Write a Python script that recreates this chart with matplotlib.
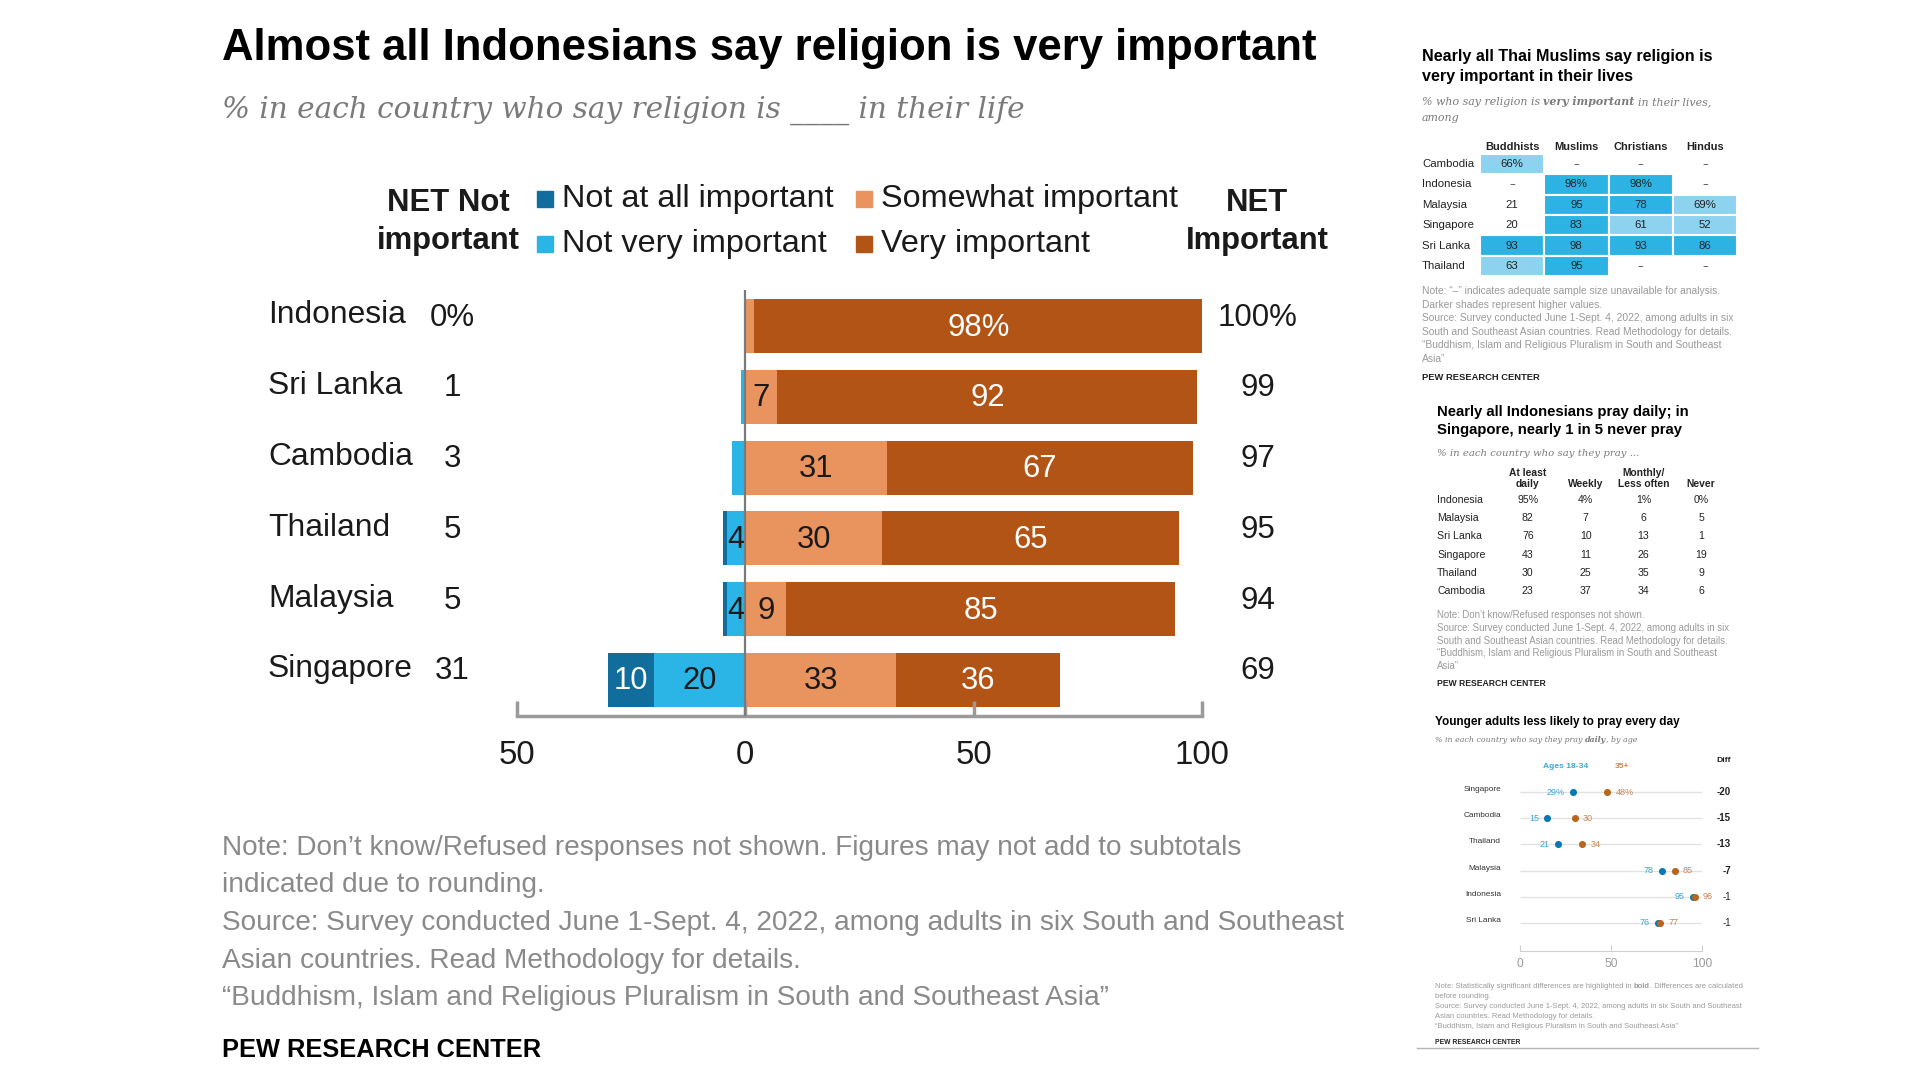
import matplotlib
matplotlib.use("Agg")
import matplotlib.pyplot as plt
import matplotlib.transforms as mtransforms
from matplotlib import font_manager
from matplotlib.patches import Rectangle

# ── Data ──────────────────────────────────────────────────────────────────────

COUNTRIES = ["Indonesia", "Sri Lanka", "Cambodia", "Thailand", "Malaysia", "Singapore"]
NOT_AT_ALL = [0, 0, 0, 1, 1, 10]
NOT_VERY = [0, 1, 3, 4, 4, 20]
SOMEWHAT = [2, 7, 31, 30, 9, 33]
VERY = [98, 92, 67, 65, 85, 36]
NET_NOT = [0, 1, 3, 5, 5, 31]
NET_IMP = [100, 99, 97, 95, 94, 69]

GROUPS = ["Buddhists", "Muslims", "Christians", "Hindus"]
TABLE_COUNTRIES = ["Cambodia", "Indonesia", "Malaysia", "Singapore", "Sri Lanka", "Thailand"]
BUDDHISTS = [66, None, 21, 20, 93, 63]
MUSLIMS = [None, 98, 95, 83, 98, 95]
CHRISTIANS = [None, 98, 78, 61, 93, None]
HINDUS = [None, None, 69, 52, 86, None]

PRAY_COUNTRIES = ["Indonesia", "Malaysia", "Sri Lanka", "Singapore", "Thailand", "Cambodia"]
PRAY_DAILY = [95, 82, 76, 43, 30, 23]
PRAY_WEEKLY = [4, 7, 10, 11, 25, 37]
PRAY_MONTHLY = [1, 6, 13, 26, 35, 34]
PRAY_NEVER = [0, 5, 1, 19, 9, 6]

AGE_COUNTRIES = ["Singapore", "Cambodia", "Thailand", "Malaysia", "Indonesia", "Sri Lanka"]
YOUNG = [29, 15, 21, 78, 95, 76]
OLDER = [48, 30, 34, 85, 96, 77]
DIFF = [-20, -15, -13, -7, -1, -1]
SIGNIF = [True, True, True, True, False, False]

# ── Style ─────────────────────────────────────────────────────────────────────

C_NOTALL = "#106d9c"
C_NOTVERY = "#2ab5e6"
C_SOME = "#e9935f"
C_VERY = "#b25415"
TEXT = "#1a1a1a"
GRAY = "#8a8a8a"
SUB = "#7a7a7a"
CELL_DARK = "#2cb3e4"
CELL_LIGHT = "#8dd3f0"
DOT_YOUNG = "#0b78b3"
DOT_OLD = "#b8661f"
LBL_YOUNG = "#3aa7d6"
LBL_OLD = "#c98451"

installed = {f.name for f in font_manager.fontManager.ttflist}
NARROW = "Liberation Sans Narrow" if "Liberation Sans Narrow" in installed else "Liberation Sans"
SANS = "Liberation Sans"
SERIF = "DejaVu Serif"

W, H = 1920, 1080
fig = plt.figure(figsize=(W / 100, H / 100), dpi=100, facecolor="white")
ov = fig.add_axes([0, 0, 1, 1])
ov.set_xlim(0, W)
ov.set_ylim(H, 0)
ov.axis("off")


def px_axes(left, top, right, bottom):
    a = fig.add_axes([left / W, 1 - bottom / H, (right - left) / W, (bottom - top) / H])
    a.patch.set_alpha(0)
    return a


def size_for(s, width, **kw):
    t = ov.text(0, 0, s, fontsize=10, **kw)
    w = t.get_window_extent(fig.canvas.get_renderer()).width
    t.remove()
    return 10 * width / w


def rich(x, y, parts, size, **kw):
    # parts: (text, weight, gap in em before it)
    t = ov.text(x, y, parts[0][0], fontsize=size, fontweight=parts[0][1], va="center", **kw)
    for s, wgt, gap in parts[1:]:
        t = ov.annotate(s, xy=(1, 0), xycoords=t, xytext=(gap * size, 0),
                        textcoords="offset points", va="bottom", ha="left",
                        fontsize=size, fontweight=wgt, **kw)


def lines(x, y0, dy, rows, size, **kw):
    for i, s in enumerate(rows):
        ov.text(x, y0 + i * dy, s, fontsize=size, va="center", **kw)


# ── Main chart ────────────────────────────────────────────────────────────────

title_fs = size_for("Almost all Indonesians say religion is very important", 1096, family=NARROW, fontweight="bold")
ov.text(222, 60, "Almost all Indonesians say religion is very important", fontsize=title_fs,
        family=NARROW, fontweight="bold", color="black", va="baseline")
sub_s = "% in each country who say religion is ____ in their life"
sub_fs = size_for(sub_s, 802, family=SERIF, style="italic")
ov.text(222, 118, sub_s, fontsize=sub_fs, family=SERIF, style="italic", color=SUB, va="baseline")

leg_fs = size_for("Not at all important", 273, family=NARROW)
net_fs = size_for("important", 143, family=NARROW, fontweight="bold")
ov.text(448, 203, "NET Not", fontsize=net_fs, family=NARROW, fontweight="bold", ha="center", va="center", color=TEXT)
ov.text(448, 241, "important", fontsize=net_fs, family=NARROW, fontweight="bold", ha="center", va="center", color=TEXT)
ov.text(1257, 203, "NET", fontsize=net_fs, family=NARROW, fontweight="bold", ha="center", va="center", color=TEXT)
ov.text(1257, 241, "Important", fontsize=net_fs, family=NARROW, fontweight="bold", ha="center", va="center", color=TEXT)
for (x, yc, col, lab) in [(537, 199, C_NOTALL, "Not at all important"),
                          (537, 244, C_NOTVERY, "Not very important"),
                          (856, 199, C_SOME, "Somewhat important"),
                          (856, 244, C_VERY, "Very important")]:
    ov.add_patch(Rectangle((x, yc - 8), 16, 16, color=col))
    ov.text(x + 25, yc, lab, fontsize=leg_fs, family=NARROW, va="center", color=TEXT)

ax = px_axes(517, 290, 1202, 716)
rows = list(range(len(COUNTRIES)))
neg_all = [-(a + b) for a, b in zip(NOT_AT_ALL, NOT_VERY)]
neg_very = [-b for b in NOT_VERY]
bh = 0.76
ax.barh(rows, NOT_AT_ALL, left=neg_all, height=bh, color=C_NOTALL)
ax.barh(rows, NOT_VERY, left=neg_very, height=bh, color=C_NOTVERY)
ax.barh(rows, SOMEWHAT, height=bh, color=C_SOME)
ax.barh(rows, VERY, left=SOMEWHAT, height=bh, color=C_VERY)

bar_fs = size_for("98%", 62, family=NARROW)
for i in rows:
    segs = [(NOT_AT_ALL[i], neg_all[i], "white"),
            (NOT_VERY[i], neg_very[i], TEXT),
            (SOMEWHAT[i], 0, TEXT),
            (VERY[i], SOMEWHAT[i], "white")]
    for k, (v, start, tc) in enumerate(segs):
        if v < 4:
            continue
        lab = f"{v}%" if (i == 0 and k == 3) else f"{v}"
        ax.text(start + v / 2, i + 0.02, lab, ha="center", va="center",
                fontsize=bar_fs, family=NARROW, color=tc)

ax.set_xlim(-50, 100)
ax.set_ylim(5.51, -0.51)
ax.axvline(0, color="#7a7a7a", lw=1.6, zorder=3)
for s in ["top", "right", "left"]:
    ax.spines[s].set_visible(False)
ax.spines["bottom"].set_color("#9a9a9a")
ax.spines["bottom"].set_linewidth(2.5)
ax.set_yticks([])
ax.set_xticks([-50, 0, 50, 100])
tick_fs = size_for("100", 55, family=NARROW)
ax.set_xticklabels(["50", "0", "50", "100"], family=NARROW, fontsize=tick_fs, color=TEXT)
ax.tick_params(axis="x", direction="in", length=11, width=2.5, color="#9a9a9a", pad=17)

row_tr = mtransforms.blended_transform_factory(ov.transData, ax.transData)
name_fs = size_for("Indonesia", 138, family=NARROW)
val_fs = size_for("100%", 80, family=NARROW)
for i, c in enumerate(COUNTRIES):
    ax.text(268, i - 0.15, c, transform=row_tr, fontsize=name_fs, family=NARROW,
            va="center", ha="left", color=TEXT, clip_on=False)
    ax.text(452, i - 0.12, f"{NET_NOT[i]}%" if i == 0 else f"{NET_NOT[i]}", transform=row_tr,
            fontsize=val_fs, family=NARROW, va="center", ha="center", color=TEXT, clip_on=False)
    ax.text(1258, i - 0.12, f"{NET_IMP[i]}%" if i == 0 else f"{NET_IMP[i]}", transform=row_tr,
            fontsize=val_fs, family=NARROW, va="center", ha="center", color=TEXT, clip_on=False)

note_rows = ["Note: Don’t know/Refused responses not shown. Figures may not add to subtotals",
             "indicated due to rounding.",
             "Source: Survey conducted June 1-Sept. 4, 2022, among adults in six South and Southeast",
             "Asian countries. Read Methodology for details.",
             "“Buddhism, Islam and Religious Pluralism in South and Southeast Asia”"]
note_fs = size_for(note_rows[2], 1124, family=NARROW)
lines(222, 848, 37.5, note_rows, note_fs, family=NARROW, color=GRAY)
pew_fs = size_for("PEW RESEARCH CENTER", 318, family=NARROW, fontweight="bold")
ov.text(222, 1050, "PEW RESEARCH CENTER", fontsize=pew_fs, family=NARROW, fontweight="bold",
        va="center", color="black")

# ── Panel 1: religious groups table ───────────────────────────────────────────

p1_fs = size_for("Nearly all Thai Muslims say religion is", 290, family=SANS, fontweight="bold")
lines(1422, 57, 20, ["Nearly all Thai Muslims say religion is", "very important in their lives"],
      p1_fs, family=SANS, fontweight="bold", color="black")
s1_fs = size_for("% who say religion is very important in their lives,", 280, family=SERIF, style="italic")
rich(1422, 102, [("% who say religion is", "normal"), ("very important", "bold", 0.3),
                 ("in their lives,", "normal", 0.3)], s1_fs, family=SERIF, style="italic", color=SUB)
ov.text(1422, 118, "among", fontsize=s1_fs, family=SERIF, style="italic", color=SUB, va="center")

axt = px_axes(1480, 153.8, 1737, 276.2)
columns = [BUDDHISTS, MUSLIMS, CHRISTIANS, HINDUS]
cell_fs = size_for("Singapore", 52, family=SANS)
for j, col in enumerate(columns):
    first = True
    for i, v in enumerate(col):
        if v is None:
            axt.text(j, i, "–", ha="center", va="center", fontsize=cell_fs, color="#444")
            continue
        if v >= 70:
            fc = CELL_DARK
        elif v >= 50:
            fc = CELL_LIGHT
        else:
            fc = "none"
        axt.bar(j, 1, bottom=i - 0.5, width=1, color=fc, edgecolor="white", linewidth=1.5)
        axt.text(j, i, f"{v}%" if first else f"{v}", ha="center", va="center",
                 fontsize=cell_fs, family=SANS, color="#222")
        first = False
axt.set_xlim(-0.5, 3.5)
axt.set_ylim(5.5, -0.5)
axt.axis("off")
col_tr = mtransforms.blended_transform_factory(axt.transData, ov.transData)
hdr_fs = size_for("Christians", 54, family=SANS, fontweight="bold")
for j, g in enumerate(GROUPS):
    axt.text(j, 147, g, transform=col_tr, ha="center", va="center", fontsize=hdr_fs,
             family=SANS, fontweight="bold", color="#222", clip_on=False)
t_tr = mtransforms.blended_transform_factory(ov.transData, axt.transData)
for i, c in enumerate(TABLE_COUNTRIES):
    axt.text(1422, i, c, transform=t_tr, ha="left", va="center", fontsize=cell_fs,
             family=SANS, color="#222", clip_on=False)

n1 = ["Note: “–” indicates adequate sample size unavailable for analysis.",
      "Darker shades represent higher values.",
      "Source: Survey conducted June 1-Sept. 4, 2022, among adults in six",
      "South and Southeast Asian countries. Read Methodology for details.",
      "“Buddhism, Islam and Religious Pluralism in South and Southeast",
      "Asia”"]
n1_fs = size_for(n1[2], 314, family=SANS)
lines(1422, 291, 13.6, n1, n1_fs, family=SANS, color="#9a9a9a")
pew1_fs = size_for("PEW RESEARCH CENTER", 117, family=SANS, fontweight="bold")
ov.text(1422, 378, "PEW RESEARCH CENTER", fontsize=pew1_fs, family=SANS, fontweight="bold",
        va="center", color="#222")

# ── Panel 2: prayer frequency table ───────────────────────────────────────────

p2_fs = size_for("Nearly all Indonesians pray daily; in", 254, family=SANS, fontweight="bold")
lines(1437, 412, 18, ["Nearly all Indonesians pray daily; in", "Singapore, nearly 1 in 5 never pray"],
      p2_fs, family=SANS, fontweight="bold", color="black")
s2 = "% in each country who say they pray ..."
s2_fs = size_for(s2, 202, family=SERIF, style="italic")
ov.text(1437, 453, s2, fontsize=s2_fs, family=SERIF, style="italic", color=SUB, va="center")

axp = px_axes(1499, 490.9, 1730, 600.1)
axp.set_xlim(-0.5, 3.5)
axp.set_ylim(5.5, -0.5)
axp.axis("off")
pcell_fs = size_for("Singapore", 48, family=SANS)
for j, col in enumerate([PRAY_DAILY, PRAY_WEEKLY, PRAY_MONTHLY, PRAY_NEVER]):
    for i, v in enumerate(col):
        axp.text(j, i, f"{v}%" if i == 0 else f"{v}", ha="center", va="center",
                 fontsize=pcell_fs, family=SANS, color="#222")
pcol_tr = mtransforms.blended_transform_factory(axp.transData, ov.transData)
phdr_fs = size_for("Less often", 51, family=SANS, fontweight="bold")
for j, hdr in enumerate([("At least", "daily"), ("", "Weekly"), ("Monthly/", "Less often"), ("", "Never")]):
    for k, part in enumerate(hdr):
        if part:
            axp.text(j, 473 + 11 * k, part, transform=pcol_tr, ha="center", va="center",
                     fontsize=phdr_fs, family=SANS, fontweight="bold", color="#222", clip_on=False)
p_tr = mtransforms.blended_transform_factory(ov.transData, axp.transData)
for i, c in enumerate(PRAY_COUNTRIES):
    axp.text(1437, i, c, transform=p_tr, ha="left", va="center", fontsize=pcell_fs,
             family=SANS, color="#222", clip_on=False)

n2 = ["Note: Don’t know/Refused responses not shown.",
      "Source: Survey conducted June 1-Sept. 4, 2022, among adults in six",
      "South and Southeast Asian countries. Read Methodology for details.",
      "“Buddhism, Islam and Religious Pluralism in South and Southeast",
      "Asia”"]
n2_fs = size_for(n2[1], 293, family=SANS)
lines(1437, 615, 12.75, n2, n2_fs, family=SANS, color="#9a9a9a")
pew2_fs = size_for("PEW RESEARCH CENTER", 108, family=SANS, fontweight="bold")
ov.text(1437, 684, "PEW RESEARCH CENTER", fontsize=pew2_fs, family=SANS, fontweight="bold",
        va="center", color="#222")

# ── Panel 3: daily prayer by age ──────────────────────────────────────────────

p3_fs = size_for("Younger adults less likely to pray every day", 243, family=SANS, fontweight="bold")
ov.text(1435, 722, "Younger adults less likely to pray every day", fontsize=p3_fs, family=SANS,
        fontweight="bold", color="black", va="center")
s3_fs = size_for("% in each country who say they pray daily, by age", 200, family=SERIF, style="italic")
rich(1435, 740, [("% in each country who say they pray", "normal"), ("daily", "bold", 0.3),
                 (", by age", "normal", 0.0)], s3_fs, family=SERIF, style="italic", color=SUB)
leg3_fs = size_for("Ages 18-34", 45, family=SANS, fontweight="bold")
ov.text(1566, 767, "Ages 18-34", fontsize=leg3_fs, family=SANS, fontweight="bold", color=LBL_YOUNG,
        ha="center", va="center")
ov.text(1622, 767, "35+", fontsize=leg3_fs, family=SANS, fontweight="bold", color=LBL_OLD,
        ha="center", va="center")
ov.text(1724, 760, "Diff", fontsize=leg3_fs, family=SANS, fontweight="bold", color="#222",
        ha="center", va="center")

axd = px_axes(1520, 779, 1702, 951)
drows = list(range(len(AGE_COUNTRIES)))
axd.hlines(drows, 0, 100, color="#e2e2e2", lw=1, zorder=1)
axd.scatter(YOUNG, drows, s=26, color=DOT_YOUNG, zorder=3, linewidths=0)
axd.scatter(OLDER, drows, s=26, color=DOT_OLD, zorder=4, linewidths=0)
dval_fs = size_for("29%", 18, family=SANS)
for i in drows:
    axd.annotate(f"{YOUNG[i]}%" if i == 0 else f"{YOUNG[i]}", (YOUNG[i], i), xytext=(-6, 0),
                 textcoords="offset points", ha="right", va="center", fontsize=dval_fs,
                 family=SANS, color=LBL_YOUNG)
    axd.annotate(f"{OLDER[i]}%" if i == 0 else f"{OLDER[i]}", (OLDER[i], i), xytext=(6, 0),
                 textcoords="offset points", ha="left", va="center", fontsize=dval_fs,
                 family=SANS, color=LBL_OLD)
axd.set_xlim(0, 100)
axd.set_ylim(6.07, -0.5)
for s in ["top", "right", "left"]:
    axd.spines[s].set_visible(False)
axd.spines["bottom"].set_color("#cfcfcf")
axd.set_yticks([])
axd.set_xticks([0, 50, 100])
daxis_fs = size_for("100", 20, family=SANS)
axd.set_xticklabels(["0", "50", "100"], fontsize=daxis_fs, family=SANS, color="#9a9a9a")
axd.tick_params(axis="x", direction="in", length=4, color="#cfcfcf", pad=5)
d_tr = mtransforms.blended_transform_factory(ov.transData, axd.transData)
dname_fs = size_for("Singapore", 38, family=SANS)
diff_fs = size_for("-20", 14, family=SANS, fontweight="bold")
for i, c in enumerate(AGE_COUNTRIES):
    axd.text(1501, i - 0.1, c, transform=d_tr, ha="right", va="center", fontsize=dname_fs,
             family=SANS, color="#333", clip_on=False)
    axd.text(1731, i, f"{DIFF[i]}", transform=d_tr, ha="right", va="center", fontsize=diff_fs,
             family=SANS, fontweight="bold" if SIGNIF[i] else "normal", color="#222", clip_on=False)

n3_fs = size_for("Source: Survey conducted June 1-Sept. 4, 2022, among adults in six South and Southeast",
                 304, family=SANS)
rich(1435, 987, [("Note: Statistically significant differences are highlighted in", "normal"),
                 ("bold", "bold", 0.28), (". Differences are calculated", "normal", 0.0)],
     n3_fs, family=SANS, color="#9a9a9a")
lines(1435, 997, 9.8, ["before rounding.",
                       "Source: Survey conducted June 1-Sept. 4, 2022, among adults in six South and Southeast",
                       "Asian countries. Read Methodology for details.",
                       "“Buddhism, Islam and Religious Pluralism in South and Southeast Asia”"],
      n3_fs, family=SANS, color="#9a9a9a")
pew3_fs = size_for("PEW RESEARCH CENTER", 85, family=SANS, fontweight="bold")
ov.text(1435, 1042, "PEW RESEARCH CENTER", fontsize=pew3_fs, family=SANS, fontweight="bold",
        va="center", color="#222")
ov.plot([1417, 1758], [1047.5, 1047.5], color="#b5b5b5", lw=1)

fig.savefig("out.png", dpi=100, facecolor="white")
